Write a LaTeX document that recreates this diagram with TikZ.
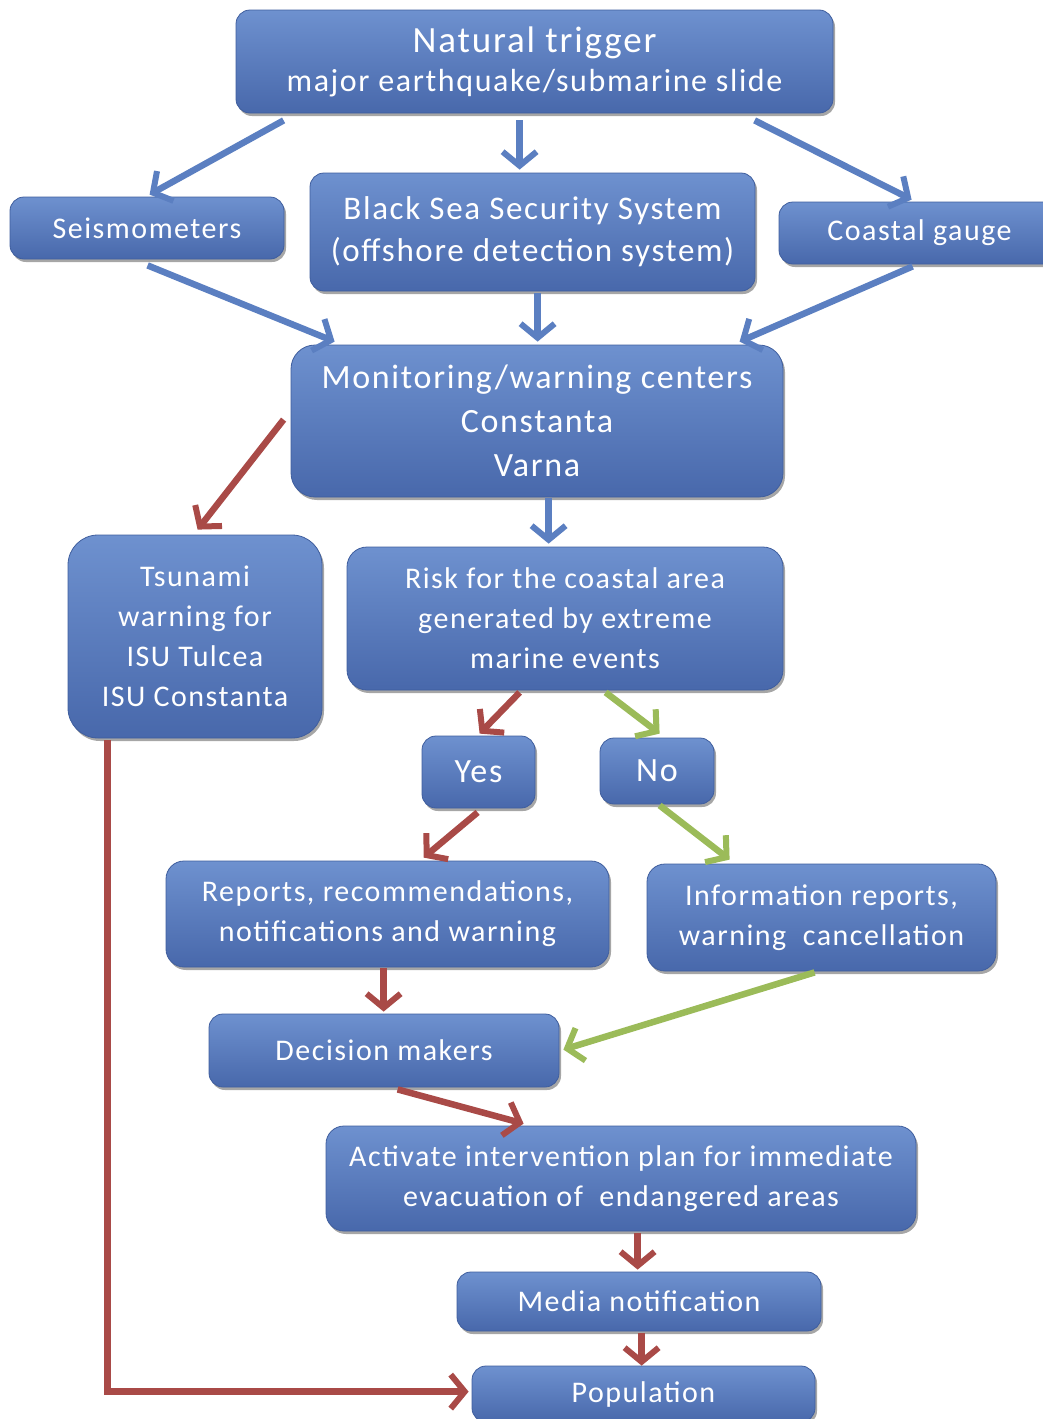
\documentclass[tikz,border=0pt]{standalone}
\usepackage{fontspec}
\setmainfont{Carlito}[LetterSpace=5]
\usetikzlibrary{arrows.meta,shadows}
\definecolor{boxtop}{HTML}{6E91CF}
\definecolor{boxbot}{HTML}{4868AB}
\definecolor{boxedge}{HTML}{3F5E9E}
\definecolor{ablue}{HTML}{5B7FC1}
\definecolor{ared}{HTML}{A94A47}
\definecolor{agreen}{HTML}{9BBB59}
\tikzset{
  box/.style={draw=boxedge, line width=0.8pt, top color=boxtop, bottom color=boxbot,
    text=white, align=center, inner sep=0pt, rounded corners=14pt,
    drop shadow={shadow xshift=2pt, shadow yshift=-3pt, opacity=0.35, fill=black}},
  conn/.style={line width=6.5pt, -{Straight Barb[length=14pt,width=34pt,line width=6pt]}},
  ba/.style={conn, draw=ablue},
  ra/.style={conn, draw=ared},
  ga/.style={conn, draw=agreen},
  fa/.style={font=\fontsize{30}{40}\selectfont},
}
\newcommand\mybox[7][]{%
  \node[box, fa, #1, minimum width={(#4-#2)*1pt}, minimum height={(#5-#3)*1pt}]
    (#6) at ({(#2+#4)/2},{(#3+#5)/2}) {#7};}
\begin{document}
\begin{tikzpicture}[x=1pt,y=-1pt]
\useasboundingbox (0,0) rectangle (1043,1419);
\clip (0,0) rectangle (1043,1419);
\mybox[font=\fontsize{32}{43}\selectfont]{236}{10}{833}{113}{nat}{\raisebox{-4pt}{\fontsize{37}{43}\selectfont Natural trigger}\\major earthquake/submarine slide}
\mybox{10}{197}{284}{259}{seis}{Seismometers}
\mybox[font=\fontsize{33}{42}\selectfont]{310}{173}{755}{291}{bss}{Black Sea Security System\\(offshore detection system)}
\mybox{779}{202}{1060}{264}{cg}{Coastal gauge}
\mybox[font=\fontsize{34}{44}\selectfont, rounded corners=24pt]{291}{345}{783}{497}{mon}{Monitoring/warning centers\\Constanta\\Varna}
\mybox[rounded corners=30pt]{68}{535}{322}{738}{tsu}{Tsunami\\warning for\\ISU Tulcea\\ISU Constanta}
\mybox[rounded corners=20pt]{347}{547}{783}{690}{risk}{Risk for the coastal area\\generated by extreme\\marine events}
\mybox[font=\fontsize{34}{40}\selectfont]{422}{736}{535}{808}{yes}{Yes}
\mybox[font=\fontsize{34}{40}\selectfont]{600}{738}{714}{804}{no}{No}
\mybox[rounded corners=18pt]{166}{861}{609}{967}{rep}{Reports, recommendations,\\notifications and warning}
\mybox[rounded corners=18pt]{647}{864}{996}{971}{info}{Information reports,\\warning~ cancellation}
\mybox{209}{1014}{559}{1087}{dec}{Decision makers}
\mybox[rounded corners=18pt]{326}{1126}{916}{1231}{act}{Activate intervention plan for immediate\\evacuation of~ endangered areas}
\mybox{457}{1272}{821}{1331}{med}{Media notification}
\mybox{472}{1366}{815}{1422}{pop}{Population}
% blue
\draw[ba] ([shift={(48,7)}]nat.south west) -- ([shift={(140,-2)}]seis.north west);
\draw[ba] ([shift={(284,7)}]nat.south west) -- ([shift={(210,-3)}]bss.north west);
\draw[ba] ([shift={(519,7)}]nat.south west) -- ([shift={(133,-2)}]cg.north west);
\draw[ba] ([shift={(138,6)}]seis.south west) -- ([shift={(44,-3)}]mon.north west);
\draw[ba] ([shift={(228,2)}]bss.south west) -- ([shift={(247,-3)}]mon.north west);
\draw[ba] ([shift={(134,2)}]cg.south west) -- ([shift={(449,-3)}]mon.north west);
\draw[ba] ([shift={(258,1)}]mon.south west) -- ([shift={(202,-3)}]risk.north west);
% red
\draw[ra] ([shift={(-7,75)}]mon.north west) -- ([shift={(130,-5)}]tsu.north west);
\draw[ra] ([shift={(173,2)}]risk.south west) -- ([shift={(58,-2)}]yes.north west);
\draw[ra] ([shift={(56,4)}]yes.south west) -- ([shift={(258,-3)}]rep.north west);
\draw[ra] ([shift={(218,1)}]rep.south west) -- ([shift={(175,-2)}]dec.north west);
\draw[ra] ([shift={(189,2)}]dec.south west) -- ([shift={(198,-2)}]act.north west);
\draw[ra] ([shift={(312,2)}]act.south west) -- ([shift={(181,-2)}]med.north west);
\draw[ra] ([shift={(185,2)}]med.south west) -- ([shift={(170,0)}]pop.north west);
\draw[ra] ([shift={(40,2)}]tsu.south west) |- ([shift={(-3,26)}]pop.north west);
% green
\draw[ga] ([shift={(259,2)}]risk.south west) -- ([shift={(60,-4)}]no.north west);
\draw[ga] ([shift={(60,1)}]no.south west) -- ([shift={(83,-4)}]info.north west);
\draw[ga] ([shift={(168,1)}]info.south west) -- ([shift={(4,36)}]dec.north east);
\end{tikzpicture}
\end{document}
